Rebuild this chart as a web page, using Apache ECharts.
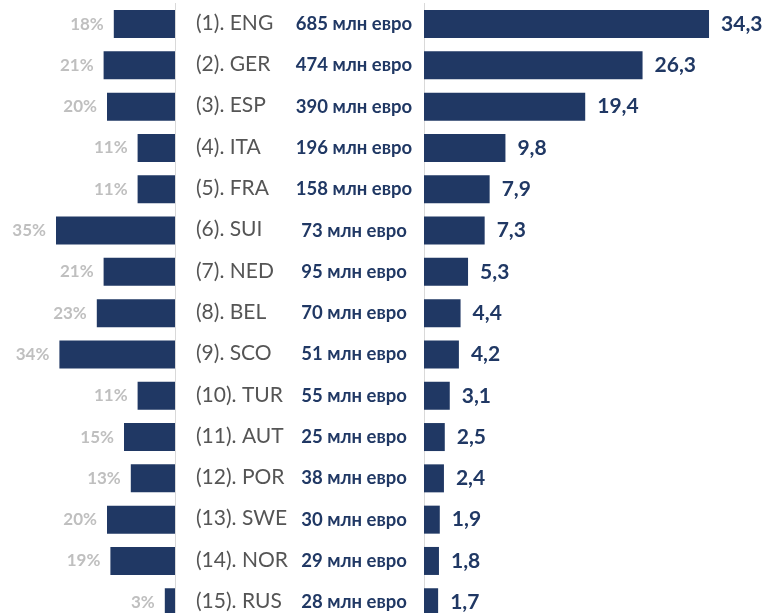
<!DOCTYPE html>
<html>
<head>
<meta charset="utf-8">
<script src="https://cdn.jsdelivr.net/npm/echarts@6/dist/echarts.min.js"></script>
<style>
  html, body { margin: 0; padding: 0; background: #fff; height: 613px; overflow: hidden; }
  /* the drawing runs a little past the window's lower edge, cutting the last row */
  #chart { width: 767px; height: 623px; }
</style>
</head>
<body>
<div id="chart"></div>
<script>
// Leagues ranked by coefficient, with transfer spend and foreign-player share
const countries = ['ENG', 'GER', 'ESP', 'ITA', 'FRA', 'SUI', 'NED', 'BEL', 'SCO', 'TUR', 'AUT', 'POR', 'SWE', 'NOR', 'RUS'];
const shares = [18, 21, 20, 11, 11, 35, 21, 23, 34, 11, 15, 13, 20, 19, 3];
const spend = [685, 474, 390, 196, 158, 73, 95, 70, 51, 55, 25, 38, 30, 29, 28];
const coefficients = [34.3, 26.3, 19.4, 9.8, 7.9, 7.3, 5.3, 4.4, 4.2, 3.1, 2.5, 2.4, 1.9, 1.8, 1.7];

const NAVY = '#203864';
const FONT = 'Lato, "Open Sans", sans-serif';

const chart = echarts.init(document.getElementById('chart'));

const rowTop = 3.4;
const rowsHeight = 619.5;

chart.setOption({
  animation: false,
  grid: [
    { left: 5, top: rowTop, width: 170, height: rowsHeight },
    { left: 424, top: rowTop, width: 332.4, height: rowsHeight }
  ],
  xAxis: [
    { gridIndex: 0, type: 'value', min: 0, max: 50, inverse: true, show: false },
    { gridIndex: 1, type: 'value', min: 0, max: 40, show: false }
  ],
  yAxis: [
    {
      gridIndex: 0, type: 'category', data: countries, inverse: true, position: 'right',
      axisLine: { show: true, lineStyle: { color: '#D9D9D9', width: 1 } },
      axisTick: { show: false },
      axisLabel: {
        margin: 21,
        formatter: (name, i) => '{c|(' + (i + 1) + '). ' + name + '}{m|' + spend[i] + ' млн евро}',
        rich: {
          c: { fontFamily: FONT, fontSize: 21, color: '#555555', width: 100, align: 'left', padding: [0, 0, 2, 0] },
          m: { fontFamily: FONT, fontSize: 18.5, fontWeight: 'bold', color: NAVY, width: 116, align: 'center' }
        }
      }
    },
    {
      gridIndex: 1, type: 'category', data: countries, inverse: true,
      axisLine: { show: true, lineStyle: { color: '#D9D9D9', width: 1 } },
      axisTick: { show: false },
      axisLabel: { show: false }
    }
  ],
  series: [
    {
      type: 'bar', xAxisIndex: 0, yAxisIndex: 0, data: shares, barWidth: 28,
      itemStyle: { color: NAVY },
      label: {
        show: true, position: 'left', distance: 10,
        formatter: p => p.value + '%',
        fontFamily: FONT, fontSize: 17, fontWeight: 'bold', color: '#BFBFBF'
      }
    },
    {
      type: 'bar', xAxisIndex: 1, yAxisIndex: 1, data: coefficients, barWidth: 28,
      itemStyle: { color: NAVY },
      label: {
        show: true, position: 'right', distance: 12,
        formatter: p => String(p.value).replace('.', ','),
        fontFamily: FONT, fontSize: 21, fontWeight: 'bold', color: NAVY
      }
    }
  ]
});
</script>
</body>
</html>
